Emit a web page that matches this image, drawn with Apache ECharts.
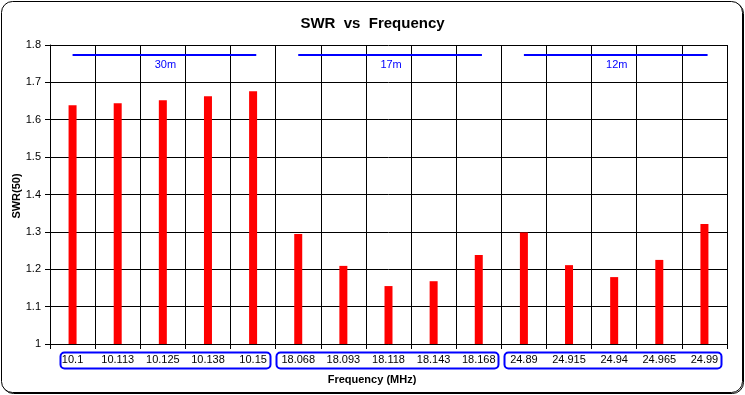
<!DOCTYPE html>
<html><head><meta charset="utf-8">
<script src="https://cdn.jsdelivr.net/npm/echarts@6/dist/echarts.min.js"></script>
<style>html,body{margin:0;padding:0;background:#fff}#c{width:745px;height:395px}</style>
</head><body><div id="c"></div>
<script>
var categories = ['10.1','10.113','10.125','10.138','10.15','18.068','18.093','18.118','18.143','18.168','24.89','24.915','24.94','24.965','24.99'];
var swr = [1.639,1.644,1.652,1.663,1.676,1.294,1.209,1.155,1.168,1.238,1.298,1.211,1.179,1.225,1.321];
var bandNames = ['30m','17m','12m'];
var bandStart = [0.5,5.5,10.5];
var bandEnd = [4.57,9.57,14.57];
var bandLevel = 1.773;
var groupEdges = [0,5,10,15];

var FONT = '"Liberation Sans", Arial, sans-serif';
var chart = echarts.init(document.getElementById('c'), null, {renderer:'canvas'});

var bandSeries = bandNames.map(function(n,i){
  return {type:'line', xAxisIndex:1, yAxisIndex:0, symbol:'none', silent:true,
    lineStyle:{color:'#0000ff', width:2},
    data:[[bandStart[i],bandLevel],[bandEnd[i],bandLevel]],
    z:5};
});

var option = {
  animation:false,
  backgroundColor:'#fff',
  title:{text:'SWR  vs  Frequency', left:'center', top:11,
    textStyle:{fontFamily:FONT, fontSize:15, fontWeight:'bold', color:'#000'}},
  grid:{left:50, right:18, top:45, bottom:51, show:false, containLabel:false, outerBoundsMode:'none'},
  xAxis:[{
    type:'category', data:categories, boundaryGap:true,
    axisLine:{lineStyle:{color:'#000', width:1}},
    axisTick:{show:true, length:5, lineStyle:{color:'#000'}},
    axisLabel:{color:'#000', fontFamily:FONT, fontSize:11, margin:10, interval:0},
    splitLine:{show:true, lineStyle:{color:'#000', width:1}}
  },{
    type:'value', min:0, max:15, show:false
  }],
  yAxis:{
    type:'value', min:1, max:1.8, interval:0.1,
    axisLine:{show:true, lineStyle:{color:'#000'}},
    axisTick:{show:true, length:5, lineStyle:{color:'#000'}},
    axisLabel:{color:'#000', fontFamily:FONT, fontSize:11, margin:9,
      formatter:function(v){return String(Math.round(v*10)/10);}},
    splitLine:{show:true, lineStyle:{color:'#000', width:1}}
  },
  series:[{
    type:'bar', data:swr, barWidth:8, itemStyle:{color:'#ff0000'}, z:3
  },{
    type:'line', xAxisIndex:1, data:[], symbol:'none',
    markLine:{silent:true, symbol:'none', label:{show:false},
      lineStyle:{color:'#000', width:1, type:'solid'},
      data:[{xAxis:15}]}
  }].concat(bandSeries)
};
chart.setOption(option);

var boxPadL = [10,0,3];
var boxPadR = [6,3,6];
var g = [];
g.push({type:'rect', shape:{x:2.5, y:2.5, width:741, height:391, r:11}, style:{fill:null, stroke:'#000', lineWidth:1}, silent:true, z:-1});
g.push({type:'rect', shape:{x:1.5, y:1.5, width:741, height:391, r:11}, style:{fill:'#fff', stroke:'#000', lineWidth:1}, silent:true, z:-1});
g.push({type:'text', x:372, y:380, style:{text:'Frequency (MHz)', fill:'#000', font:'bold 11px '+FONT, textAlign:'center', textVerticalAlign:'middle'}, z:10});
g.push({type:'text', x:17, y:196, rotation:Math.PI/2, style:{text:'SWR(50)', fill:'#000', font:'bold 11px '+FONT, textAlign:'center', textVerticalAlign:'middle'}, z:10});
for (var i=0;i<bandNames.length;i++){
  var p = chart.convertToPixel({xAxisIndex:1, yAxisIndex:0}, [(bandStart[i]+bandEnd[i])/2, bandLevel]);
  g.push({type:'text', x:p[0]+1, y:p[1]+10, style:{text:bandNames[i], fill:'#0000ff', font:'11px '+FONT, textAlign:'center', textVerticalAlign:'middle'}, z:10});
  var a = chart.convertToPixel({xAxisIndex:1, yAxisIndex:0}, [groupEdges[i], 1]);
  var b = chart.convertToPixel({xAxisIndex:1, yAxisIndex:0}, [groupEdges[i+1], 1]);
  var x0 = Math.round(a[0]) + boxPadL[i] + 0.5;
  var x1 = Math.round(b[0]) - boxPadR[i] + 0.5;
  g.push({type:'rect', shape:{x:x0, y:Math.round(a[1])+8.5, width:x1-x0, height:16, r:4},
    style:{fill:null, stroke:'#0000ff', lineWidth:2}, silent:true, z:10});
}
chart.setOption({graphic:g});
</script>
</body></html>
